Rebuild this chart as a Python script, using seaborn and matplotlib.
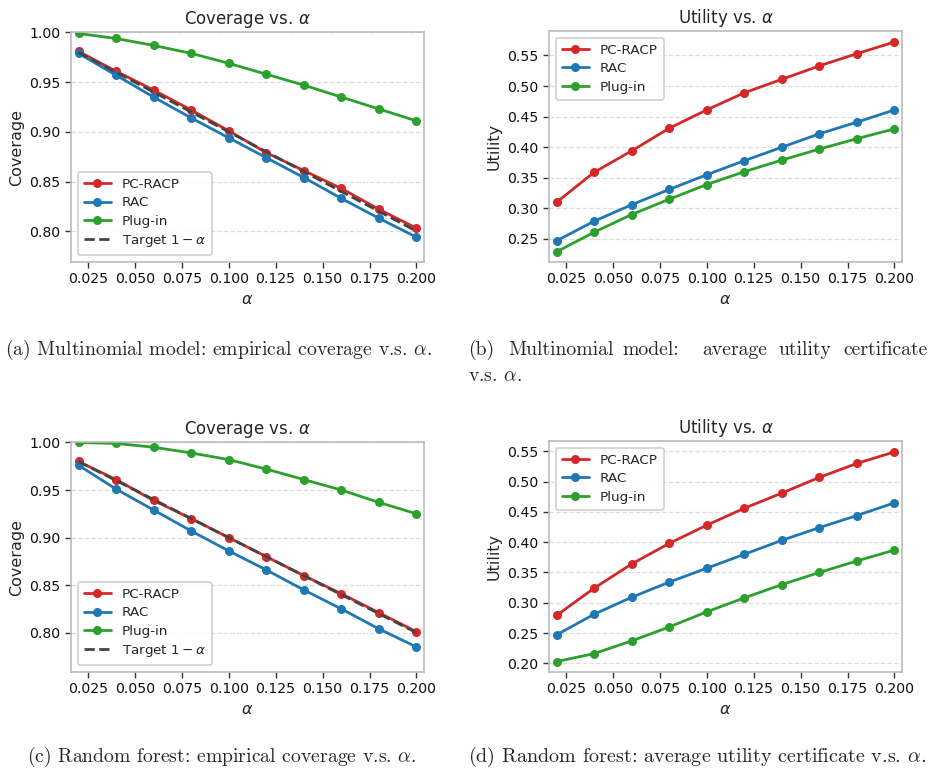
import numpy as np
import pandas as pd
import matplotlib
matplotlib.use("Agg")
import matplotlib.pyplot as plt
import seaborn as sns

# ---------------- data ----------------
alpha = [0.02, 0.04, 0.06, 0.08, 0.10, 0.12, 0.14, 0.16, 0.18, 0.20]
methods = ["PC-RACP", "RAC", "Plug-in"]

cov_mn_pcracp = [0.981, 0.961, 0.942, 0.922, 0.901, 0.879, 0.861, 0.843, 0.822, 0.803]
cov_mn_rac = [0.979, 0.957, 0.935, 0.914, 0.894, 0.874, 0.854, 0.833, 0.813, 0.794]
cov_mn_plugin = [0.999, 0.994, 0.987, 0.979, 0.969, 0.958, 0.947, 0.935, 0.923, 0.911]

util_mn_pcracp = [0.310, 0.359, 0.394, 0.431, 0.461, 0.489, 0.511, 0.533, 0.553, 0.572]
util_mn_rac = [0.247, 0.279, 0.306, 0.331, 0.355, 0.378, 0.400, 0.422, 0.441, 0.461]
util_mn_plugin = [0.229, 0.261, 0.290, 0.315, 0.339, 0.360, 0.379, 0.397, 0.414, 0.430]

cov_rf_pcracp = [0.980, 0.961, 0.939, 0.920, 0.900, 0.880, 0.860, 0.841, 0.821, 0.801]
cov_rf_rac = [0.976, 0.951, 0.929, 0.907, 0.886, 0.866, 0.845, 0.825, 0.804, 0.785]
cov_rf_plugin = [1.000, 0.999, 0.995, 0.989, 0.982, 0.972, 0.961, 0.950, 0.937, 0.925]

util_rf_pcracp = [0.279, 0.324, 0.364, 0.398, 0.428, 0.456, 0.481, 0.507, 0.530, 0.549]
util_rf_rac = [0.247, 0.281, 0.309, 0.334, 0.357, 0.380, 0.403, 0.424, 0.444, 0.465]
util_rf_plugin = [0.203, 0.216, 0.237, 0.260, 0.285, 0.308, 0.330, 0.350, 0.369, 0.387]

x_ticks = [0.025, 0.050, 0.075, 0.100, 0.125, 0.150, 0.175, 0.200]

colors = {"PC-RACP": "#d62728", "RAC": "#1f77b4", "Plug-in": "#2ca02c"}

# ---------------- style ----------------
sns.set_theme(style="ticks")
plt.rcParams["font.family"] = ["DejaVu Sans"]
plt.rcParams.update({
    "axes.edgecolor": "#bbbbbb",
    "axes.linewidth": 1.2,
    "xtick.color": "#333333",
    "ytick.color": "#333333",
    "xtick.labelcolor": "#111111",
    "ytick.labelcolor": "#111111",
    "xtick.major.size": 4,
    "ytick.major.size": 4,
    "xtick.major.width": 1.0,
    "ytick.major.width": 1.0,
})

W, H = 933, 775
fig = plt.figure(figsize=(W / 100, H / 100), dpi=100)


def add_ax(l, t, r, b):
    return fig.add_axes([l / W, 1 - b / H, (r - l) / W, (b - t) / H])


def make_df(vals):
    rows = []
    for m, v in zip(methods, vals):
        for a, y in zip(alpha, v):
            rows.append({"alpha": a, "value": y, "method": m})
    return pd.DataFrame(rows)


def panel(ax, vals, title, ylabel, ylim, yticks, target, legend_loc):
    df = make_df(vals)
    sns.lineplot(data=df, x="alpha", y="value", hue="method", hue_order=methods,
                 palette=colors, marker="o", markersize=6.5, markeredgewidth=0,
                 linewidth=2.0, ax=ax)
    if target:
        t = pd.DataFrame({"alpha": alpha, "value": [1 - a for a in alpha]})
        sns.lineplot(data=t, x="alpha", y="value", color="#444444", linestyle="--",
                     linewidth=2.0, ax=ax, label=r"Target $1-\alpha$")
    ax.set_xlim(0.016, 0.204)
    ax.set_ylim(*ylim)
    ax.set_xticks(x_ticks)
    ax.set_xticklabels([f"{v:.3f}" for v in x_ticks])
    ax.set_yticks(yticks)
    ax.set_yticklabels([f"{v:.2f}" for v in yticks])
    ax.tick_params(labelsize=10.2, direction="out")
    ax.yaxis.grid(True, linestyle="--", color="#dddddd", linewidth=0.9)
    ax.xaxis.grid(False)
    ax.set_title(title, fontsize=12, pad=6)
    ax.set_xlabel(r"$\alpha$", fontsize=11.5)
    ax.set_ylabel(ylabel, fontsize=11.5)
    leg = ax.legend(loc=legend_loc, fontsize=9.7, frameon=True, fancybox=True,
                    edgecolor="#cccccc", framealpha=0.9, borderpad=0.45,
                    labelspacing=0.4, handlelength=2.0, handletextpad=0.8)
    leg.get_frame().set_linewidth(1.2)
    for s in ax.spines.values():
        s.set_color("#bbbbbb")
        s.set_visible(True)


ax_a = add_ax(71, 32, 424, 262)
ax_b = add_ax(549, 31, 902, 262)
ax_c = add_ax(71, 442, 424, 672)
ax_d = add_ax(549, 441, 902, 672)

cov_ticks = [0.80, 0.85, 0.90, 0.95, 1.00]
panel(ax_a, [cov_mn_pcracp, cov_mn_rac, cov_mn_plugin], r"Coverage vs. $\alpha$",
      "Coverage", (0.769, 1.0005), cov_ticks, True, "lower left")
panel(ax_b, [util_mn_pcracp, util_mn_rac, util_mn_plugin], r"Utility vs. $\alpha$",
      "Utility", (0.2124, 0.590), [0.25, 0.30, 0.35, 0.40, 0.45, 0.50, 0.55], False, "upper left")
panel(ax_c, [cov_rf_pcracp, cov_rf_rac, cov_rf_plugin], r"Coverage vs. $\alpha$",
      "Coverage", (0.7587, 1.0005), cov_ticks, True, "lower left")
panel(ax_d, [util_rf_pcracp, util_rf_rac, util_rf_plugin], r"Utility vs. $\alpha$",
      "Utility", (0.1857, 0.567), [0.20, 0.25, 0.30, 0.35, 0.40, 0.45, 0.50, 0.55], False, "upper left")

# ---------------- captions ----------------
cap_kw = dict(family="cmr10", math_fontfamily="cm", fontsize=14.2, va="baseline")


def cap(xpix, ypix, s, ha="left", size=14.2):
    kw = dict(cap_kw)
    kw["fontsize"] = size
    fig.text(xpix / W, 1 - ypix / H, s, ha=ha, **kw)


cap(5, 355, r"(a) Multinomial model: empirical coverage v.s. $\alpha$.")
# justified first line of (b)
for xp, word in [(468, "(b)"), (508, "Multinomial"), (622, "model:"), (702, "average"),
                 (778, "utility"), (843, "certificate")]:
    cap(xp, 355, word)
cap(468, 381, r"v.s. $\alpha$.")
cap(27, 762, r"(c) Random forest: empirical coverage v.s. $\alpha$.")
cap(468, 762, r"(d) Random forest: average utility certificate v.s. $\alpha$.", size=14.5)

fig.savefig("out.png", dpi=100)
